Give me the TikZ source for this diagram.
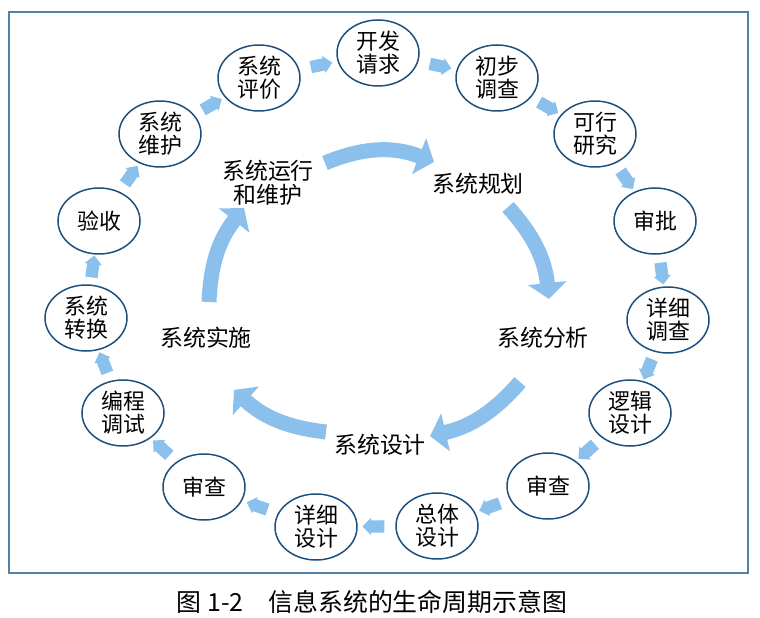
\documentclass[tikz,border=0pt]{standalone}
\usepackage{fontspec}
\newfontfamily\cjk{Noto Sans CJK SC}
\usetikzlibrary{shapes.geometric,shapes.arrows,arrows.meta}
\definecolor{ringblue}{RGB}{30,80,125}
\definecolor{arrowblue}{RGB}{140,192,236}
\definecolor{framecol}{RGB}{80,130,170}
\tikzset{
  stage/.style={ellipse, draw=ringblue, line width=1.5bp, minimum width=82bp,
    minimum height=66bp, inner sep=0pt, align=center,
    font=\cjk\fontsize{22}{23}\selectfont},
  phase/.style={align=center, inner sep=1bp, font=\cjk\fontsize{23}{24}\selectfont},
  flow/.style={single arrow, fill=arrowblue, draw=none, minimum height=22bp,
    inner sep=6bp, single arrow head extend=2.5bp, sloped, allow upside down},
  bigflow/.style={draw=arrowblue, line width=15bp,
    -{Triangle[width=38bp,length=16bp]}},
}
\begin{document}
\begin{tikzpicture}[x=1bp,y=-1bp]
\useasboundingbox (0,0) rectangle (760,618);
\draw[framecol, line width=2bp] (9,12) rectangle (748,573);

% outer cycle
\node[stage] (kaifa)  at (378,53)  {开发\\请求};
\node[stage] (chubu)  at (497,78)  {初步\\调查};
\node[stage] (kexing) at (595,134) {可行\\研究};
\node[stage] (shenpi) at (655,221) {审批};
\node[stage] (xxdc)   at (668,320) {详细\\调查};
\node[stage] (luoji)  at (630,413) {逻辑\\设计};
\node[stage] (shenR)  at (548,486) {审查};
\node[stage] (zongti) at (437,526) {总体\\设计};
\node[stage] (xxsj)   at (316,527) {详细\\设计};
\node[stage] (shenL)  at (204,487) {审查};
\node[stage] (biancheng) at (123,413) {编程\\调试};
\node[stage] (zhuanhuan) at (86,318) {系统\\转换};
\node[stage] (yanshou) at (99,221) {验收};
\node[stage] (weihu)  at (160,134) {系统\\维护};
\node[stage] (pingjia) at (259,78) {系统\\评价};

\foreach \a/\b in {pingjia/kaifa, kaifa/chubu, chubu/kexing, kexing/shenpi,
  shenpi/xxdc, xxdc/luoji, luoji/shenR, shenR/zongti, zongti/xxsj, xxsj/shenL,
  shenL/biancheng, biancheng/zhuanhuan, zhuanhuan/yanshou, yanshou/weihu, weihu/pingjia}
  \path (\a) -- node[flow] {} (\b);

% inner cycle
\node[phase] (yunxing) at (268,183) {系统运行\\和维护};
\node[phase] (guihua)  at (478,184) {系统规划};
\node[phase] (fenxi)   at (543,338) {系统分析};
\node[phase] (sheji)   at (380,445) {系统设计};
\node[phase] (shishi)  at (206,338) {系统实施};

\coordinate (a1s) at (325,163); \coordinate (a1e) at (434,162);
\coordinate (a2s) at (508,207); \coordinate (a2e) at (549,299);
\coordinate (a3s) at (520,382); \coordinate (a3e) at (430,436);
\coordinate (a4s) at (326,432); \coordinate (a4e) at (234,390);
\coordinate (a5s) at (209,302); \coordinate (a5e) at (244,208);
\draw[bigflow] (a1s) to[bend left=22] (a1e);
\draw[bigflow] (a2s) to[bend left=18] (a2e);
\draw[bigflow] (a3s) to[bend left=18] (a3e);
\draw[bigflow] (a4s) to[bend left=18] (a4e);
\draw[bigflow] (a5s) to[bend left=18] (a5e);

\node[font=\cjk\fontsize{25}{27}\selectfont, inner sep=0pt] (caption) at (372,602)
  {图 1-2\quad 信息系统的生命周期示意图};
\end{tikzpicture}
\end{document}
